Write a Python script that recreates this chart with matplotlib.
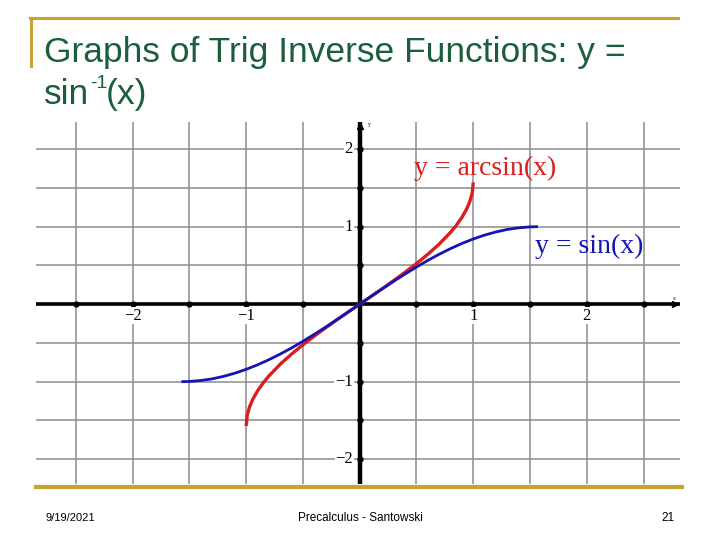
import matplotlib
matplotlib.use("Agg")
import matplotlib.pyplot as plt

# curve samples
sin_x = [-1.57, -1.5, -1.4, -1.3, -1.2, -1.1, -1.0, -0.9, -0.8, -0.7, -0.6, -0.5, -0.4, -0.3, -0.2, -0.1,
         0.0, 0.1, 0.2, 0.3, 0.4, 0.5, 0.6, 0.7, 0.8, 0.9, 1.0, 1.1, 1.2, 1.3, 1.4, 1.5, 1.57]
sin_y = [-1.0, -0.997, -0.985, -0.964, -0.932, -0.891, -0.841, -0.783, -0.717, -0.644, -0.565, -0.479, -0.389, -0.296, -0.199, -0.1,
         0.0, 0.1, 0.199, 0.296, 0.389, 0.479, 0.565, 0.644, 0.717, 0.783, 0.841, 0.891, 0.932, 0.964, 0.985, 0.997, 1.0]

asin_x = [-1.0, -0.99, -0.97, -0.94, -0.9, -0.85, -0.8, -0.7, -0.6, -0.5, -0.4, -0.3, -0.2, -0.1,
          0.0, 0.1, 0.2, 0.3, 0.4, 0.5, 0.6, 0.7, 0.8, 0.85, 0.9, 0.94, 0.97, 0.99, 1.0]
asin_y = [-1.571, -1.429, -1.326, -1.223, -1.12, -1.016, -0.927, -0.775, -0.644, -0.524, -0.412, -0.305, -0.201, -0.1,
          0.0, 0.1, 0.201, 0.305, 0.412, 0.524, 0.644, 0.775, 0.927, 1.016, 1.12, 1.223, 1.326, 1.429, 1.571]

grid_x = [-2.5, -2.0, -1.5, -1.0, -0.5, 0.5, 1.0, 1.5, 2.0, 2.5]
grid_y = [-2.0, -1.5, -1.0, -0.5, 0.5, 1.0, 1.5, 2.0]
xtick_vals = [-2, -1, 1, 2]
ytick_vals = [-2, -1, 1, 2]

title_text = "Graphs of Trig Inverse Functions: y = "
green = "#1b5e3b"
gold = "#c9a12e"

fig = plt.figure(figsize=(7.2, 5.4), dpi=100)

# slide decoration
fig.add_artist(plt.Line2D([30/720, 678/720], [1 - 18/540, 1 - 18/540], color=gold, lw=2.2))
fig.add_artist(plt.Line2D([31/720, 31/720], [1 - 18/540, 1 - 66/540], color=gold, lw=2.2))
fig.add_artist(plt.Line2D([36/720, 682/720], [1 - 487/540, 1 - 487/540], color=gold, lw=3))

fig.text(44/720, 1 - 62/540, title_text, color=green, fontsize=25.5, family="Liberation Sans")
fig.text(44/720, 1 - 104/540, "sin", color=green, fontsize=25.5, family="Liberation Sans")
fig.text(90/720, 1 - 88/540, "-1", color=green, fontsize=14, family="Liberation Sans")
fig.text(106/720, 1 - 104/540, "(x)", color=green, fontsize=25.5, family="Liberation Sans")

fig.text(45/720, 1 - 518/540, "9/19/2021", fontsize=8, family="Liberation Sans", va="center")
fig.text(360/720, 1 - 518/540, "Precalculus - Santowski", fontsize=8.5, family="Liberation Sans", ha="center", va="center")
fig.text(675/720, 1 - 518/540, "21", fontsize=8.5, family="Liberation Sans", ha="right", va="center")

ax = fig.add_axes([36/720, 56/540, 644/720, 362/540])
ax.set_xlim(-2.85, 2.82)
ax.set_ylim(-2.32, 2.35)
for s in ax.spines.values():
    s.set_visible(False)
ax.set_xticks([])
ax.set_yticks([])

for gx in grid_x:
    ax.axvline(gx, color="#8c8c8c", lw=1.1, zorder=1)
for gy in grid_y:
    ax.axhline(gy, color="#8c8c8c", lw=1.1, zorder=1)

# main axes
ax.axhline(0, color="black", lw=2.6, zorder=3)
ax.axvline(0, color="black", lw=3.2, zorder=3)
ax.plot(grid_x, [0] * len(grid_x), "o", color="black", ms=3.5, zorder=4)
ax.plot([0] * len(grid_y), grid_y, "o", color="black", ms=3.5, zorder=4)
ax.plot([2.78], [0], ">", color="black", ms=5, zorder=4)
ax.plot([0], [2.3], "^", color="black", ms=5, zorder=4)
ax.text(0.07, 2.3, "y", fontsize=4, family="Liberation Serif")
ax.text(2.76, 0.05, "x", fontsize=4, family="Liberation Serif")

for v in xtick_vals:
    ax.text(v, -0.15, "\u2212%d" % -v if v < 0 else str(v), ha="center", va="center",
            fontsize=12, family="Liberation Serif", zorder=5,
            bbox=dict(facecolor="white", edgecolor="none", pad=0.5))
for v in ytick_vals:
    ax.text(-0.06, v, "\u2212%d" % -v if v < 0 else str(v), ha="right", va="center",
            fontsize=12, family="Liberation Serif", zorder=5,
            bbox=dict(facecolor="white", edgecolor="none", pad=0.5))

ax.plot(asin_x, asin_y, color="#d81e1e", lw=2.4, zorder=6, solid_capstyle="butt")
ax.plot(sin_x, sin_y, color="#1414b4", lw=2.0, zorder=7, solid_capstyle="butt")

ax.text(1.1, 1.75, "y = arcsin(x)", color="#d81e1e", fontsize=20, family="Liberation Serif",
        ha="center", va="center", zorder=8)
ax.text(2.02, 0.75, "y = sin(x)", color="#1414b4", fontsize=20, family="Liberation Serif",
        ha="center", va="center", zorder=8)

fig.savefig("out.png", dpi=100)
